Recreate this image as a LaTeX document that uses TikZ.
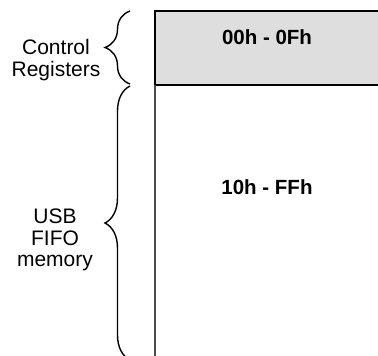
\documentclass[tikz,border=0pt]{standalone}
\usepackage{fontspec}
\setmainfont{Liberation Sans}
\usetikzlibrary{decorations.pathreplacing}

\tikzset{
  memlabel/.style={align=center, font=\fontsize{21}{21.5}\selectfont},
  rangelabel/.style={font=\fontsize{20.5}{21}\selectfont\bfseries},
  membrace/.style={decorate, decoration={brace, amplitude=25pt}, line width=1.4pt},
}

\begin{document}
\begin{tikzpicture}[x=1pt,y=1pt]
    \useasboundingbox (0,0) rectangle (378,356);
    \clip (0,0) rectangle (378,356);

    % Control register block
    \fill[black!13] (155,271) rectangle (380,345);
    \draw[line width=2pt] (155,271) -- (155,345) -- (380,345);
    \draw[line width=1.5pt] (155,271) -- (380,271);
    \node[rangelabel] (ctrlrange) at (267,319) {00h - 0Fh};

    % FIFO block
    \draw[line width=1.5pt, black!70] (155,271) -- (155,-2);
    \node[rangelabel] (fiforange) at (267,169) {10h - FFh};

    % Braces
    \draw[membrace] (130,272) -- (130,345);
    \node[memlabel] (ctrllabel) at (56,296) {Control\\Registers};
    \draw[membrace] (130,-4) -- (130,270);
    \node[memlabel] (fifolabel) at (55,116) {USB\\FIFO\\memory};
\end{tikzpicture}
\end{document}
